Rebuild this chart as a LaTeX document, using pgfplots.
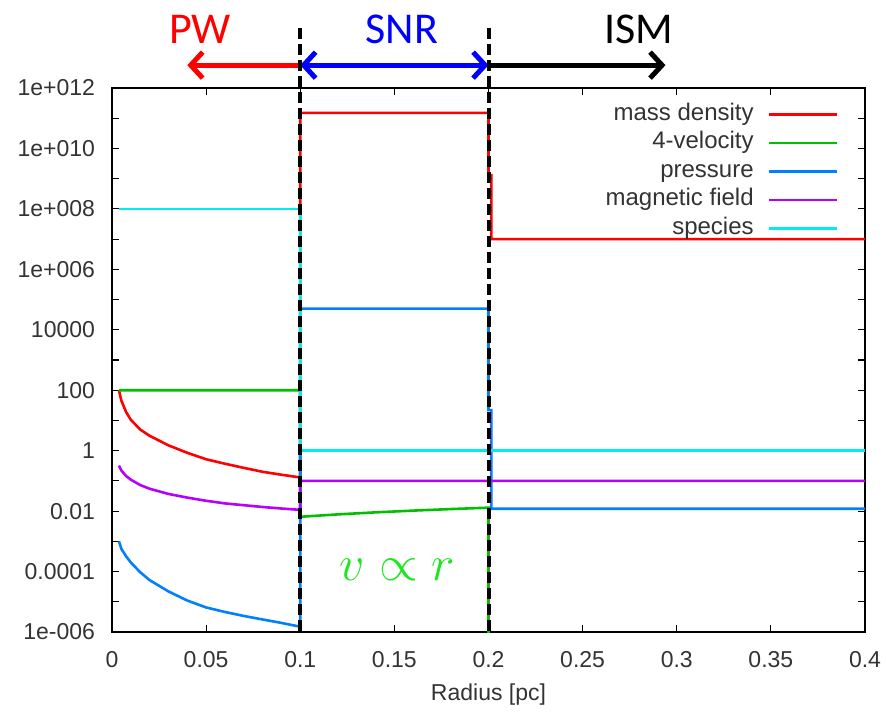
\documentclass[border=0pt]{standalone}
\usepackage{fontspec}
\setmainfont{Liberation Sans}
\newfontfamily\calibri{Carlito}
\usepackage{pgfplots}
\pgfplotsset{compat=1.18}
\usetikzlibrary{arrows.meta}

\definecolor{gred}{RGB}{255,0,0}
\definecolor{ggreen}{RGB}{0,192,0}
\definecolor{gblue}{RGB}{0,128,255}
\definecolor{gpurple}{RGB}{180,0,255}
\definecolor{gcyan}{RGB}{0,236,240}
\definecolor{vgreen}{RGB}{30,230,30}

\begin{document}
\begin{tikzpicture}
\useasboundingbox (-56pt,-40.5pt) rectangle (387pt,316pt);
\begin{axis}[
    scale only axis,
    width=376.5pt, height=272pt,
    at={(0,0)}, anchor=south west,
    xmin=0, xmax=0.4,
    ymode=log, ymin=1e-6, ymax=1e12,
    xtick={0,0.05,0.1,0.15,0.2,0.25,0.3,0.35,0.4},
    xticklabels={0,0.05,0.1,0.15,0.2,0.25,0.3,0.35,0.4},
    ytick={1e-6,1e-4,0.01,1,100,1e4,1e6,1e8,1e10,1e12},
    yticklabels={1e-006,0.0001,0.01,1,100,10000,1e+006,1e+008,1e+010,1e+012},
    minor ytick={1e-5,1e-3,0.1,10,1e3,1e5,1e7,1e9,1e11},
    tick align=inside,
    major tick length=3.5pt, minor tick length=3.5pt,
    tick style={black, line width=0.6pt},
    axis line style={line width=0.75pt},
    tick label style={font=\fontsize{11.5}{13}\selectfont, text=black!80},
    xticklabel style={yshift=-6pt},
    yticklabel style={xshift=-5pt},
    xlabel={Radius [pc]},
    xlabel style={font=\fontsize{11.5}{13}\selectfont, text=black!80,
        at={(axis description cs:0.5,0)}, anchor=center, yshift=-31.5pt},
    /pgf/number format/assume math mode=true,
    clip mode=individual,
    legend plot pos=right,
    legend cell align=right,
    legend image code/.code={\draw[#1, line width=1.3pt] (0pt,0pt) -- (34pt,0pt);},
    legend style={draw=none, fill=none, at={(axis description cs:0.973,0.984)},
        anchor=north east, font=\fontsize{12}{14}\selectfont, text=black!80,
        row sep=1pt, column sep=6pt,
        nodes={inner sep=1pt, text height=8.5pt, text depth=2.75pt}},
]

% mass density
\addplot[gred, line width=1.3pt] coordinates {
    (0.0037,100)(0.0045,60)(0.005,45)(0.0075,19)(0.01,10.5)(0.015,5)
    (0.02,3.1)(0.03,1.5)(0.04,0.85)(0.05,0.52)(0.06,0.37)(0.07,0.27)
    (0.08,0.2)(0.09,0.16)(0.1,0.13)
    (0.1,1.5e11)(0.2,1.5e11)(0.2,1.3e9)(0.2015,1.3e9)(0.2015,1e7)(0.4,1e7)
};
% 4-velocity
\addplot[ggreen, line width=1.3pt] coordinates {
    (0.0037,100)(0.1,100)
    (0.1,0.0065)(0.12,0.0078)(0.14,0.0091)(0.16,0.0104)(0.18,0.0117)(0.2,0.013)
    (0.2,1e-8)
};
% pressure
\addplot[gblue, line width=1.3pt] coordinates {
    (0.0037,1e-3)(0.005,5.6e-4)(0.0075,3.2e-4)(0.01,2.0e-4)(0.015,9.5e-5)
    (0.02,5.2e-5)(0.03,2.2e-5)(0.04,1.1e-5)(0.05,6.5e-6)(0.06,4.6e-6)
    (0.07,3.4e-6)(0.08,2.6e-6)(0.09,2.0e-6)(0.1,1.5e-6)
    (0.1,5e4)(0.2,5e4)(0.2,22)(0.2015,22)(0.2015,0.012)(0.4,0.012)
};
% magnetic field
\addplot[gpurple, line width=1.3pt] coordinates {
    (0.0037,0.32)(0.005,0.22)(0.0075,0.145)(0.01,0.11)(0.015,0.073)
    (0.02,0.055)(0.03,0.037)(0.04,0.028)(0.05,0.022)(0.06,0.018)
    (0.07,0.0157)(0.08,0.0137)(0.09,0.0122)(0.1,0.011)
    (0.1,0.1)(0.4,0.1)
};
% species
\addplot[gcyan, line width=1.3pt] coordinates {
    (0.0037,1e8)(0.1,1e8)(0.1,1)(0.4,1)
};
\legend{mass density,4-velocity,pressure,magnetic field,species}

% region arrows and labels
\draw[gred, line width=2.5pt, -{Straight Barb[length=6pt,width=13pt]}]
    (axis cs:0.1,5.7e12) -- (axis cs:0.040,5.7e12);
\draw[blue, line width=2.5pt, {Straight Barb[length=6pt,width=13pt]}-{Straight Barb[length=6pt,width=13pt]}]
    (axis cs:0.1,5.7e12) -- (axis cs:0.2,5.7e12);
\draw[black, line width=2.5pt, -{Straight Barb[length=6pt,width=13pt]}]
    (axis cs:0.2,5.7e12) -- (axis cs:0.294,5.7e12);
\node[gred, font=\calibri\fontsize{22}{26}\selectfont] at (axis cs:0.0468,8.9e13) {PW};
\node[blue, font=\calibri\fontsize{22}{26}\selectfont] at (axis cs:0.154,8.9e13) {SNR};
\node[black, font=\calibri\fontsize{22}{26}\selectfont] at (axis cs:0.28,8.9e13) {ISM};

% boundaries
\draw[black, line width=2pt, dash pattern=on 5.5pt off 2.5pt]
    (axis cs:0.1,9.5e13) -- (axis cs:0.1,1e-6);
\draw[black, line width=2pt, dash pattern=on 5.5pt off 2.5pt]
    (axis cs:0.2,9.5e13) -- (axis cs:0.2,1e-6);

\node[vgreen, font=\fontsize{25}{30}\selectfont] at (axis cs:0.1516,1.15e-4) {$v \propto r$};
\end{axis}
\end{tikzpicture}
\end{document}
